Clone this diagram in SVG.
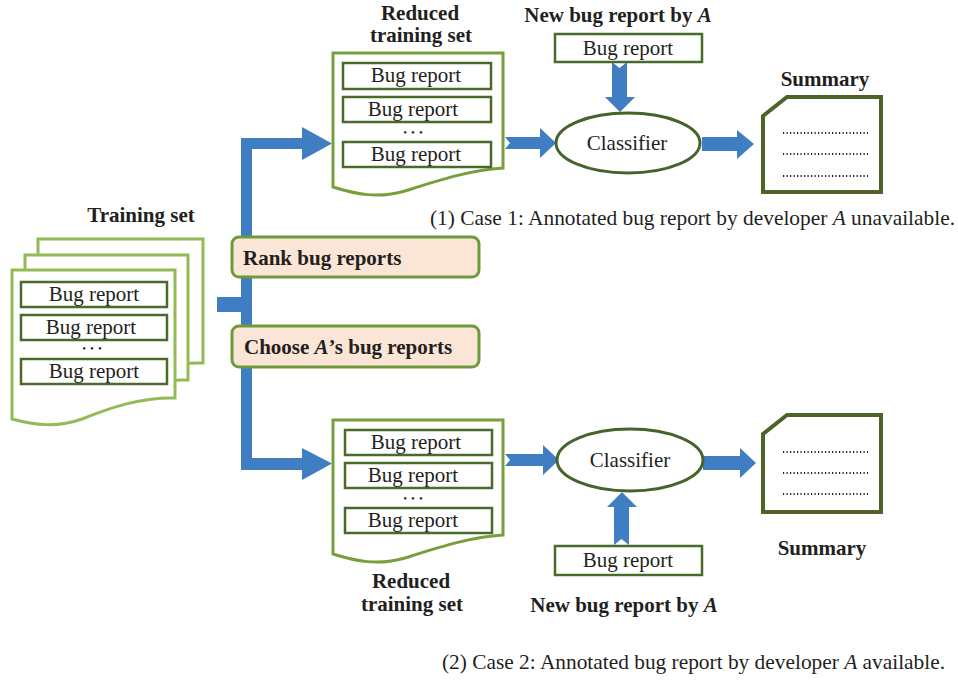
<svg xmlns="http://www.w3.org/2000/svg" width="958" height="680" viewBox="0 0 958 680">
<style>
text{font-family:"Liberation Serif","Times New Roman",serif;fill:#231f20}
.t{font-size:21px}
.b{font-size:21px;font-weight:bold}
.c{text-anchor:middle}
.dots{font-size:11px;text-anchor:middle;letter-spacing:4px}
.box{fill:#fff;stroke:#4a6a2b;stroke-width:2.5}
.doc1{fill:#fff;stroke:#93bb55;stroke-width:3}
.doc2{fill:#fff;stroke:#77a03c;stroke-width:3}
.step{fill:#fbe5d6;stroke:#6f9a3b;stroke-width:3}
.ell{fill:#fff;stroke:#46632a;stroke-width:3}
.sum{fill:#fff;stroke:#4d6328;stroke-width:4}
.dl{stroke:#231f20;stroke-width:2;stroke-dasharray:1.2 2.3}
.arr{fill:#3f7ec2}
</style>

<g id="connectors">
<polygon class="arr" points="241,138 302,138 302,127 332,143.5 302,160 302,149 252,149 252,458 302,458 302,448 332,463.5 302,480 302,470 241,470 241,312 217,312 217,297 241,297"/>
<polygon class="arr" points="505,137 540,137 540,128 556,143 540,158 540,149 505,149 510,143"/>
<polygon class="arr" points="702,137 737,137 737,130 754,144 737,159 737,151 702,151"/>
<polygon class="arr" points="612,62 619.5,68 627,62 627,97 635,97 620,112 605,97 612,97"/>
<polygon class="arr" points="505,454 543,454 543,445 559,460 543,475 543,466 505,466 510,460"/>
<polygon class="arr" points="703,456 740,456 740,448 756,463 740,478 740,470 703,470"/>
<polygon class="arr" points="614,545 621.5,539 629,545 629,507 637,507 622,492 607,507 614,507"/>
</g>

<g id="training-set">
<text class="b c" x="141" y="222">Training set</text>
<path class="doc1" d="M38,239 H203 V363 C170,362 140,372 110,384 C85,393 60,390 38,384 Z"/>
<path class="doc1" d="M25,255 H188 V380 C155,379 125,389 95,401 C70,410 47,407 25,401 Z"/>
<path class="doc1" d="M12,270 H175 V398 C142,397 112,407 82,419 C57,428 34,425 12,419 Z"/>
<rect class="box" x="21" y="282" width="146" height="25"/>
<text class="t c" x="94" y="301">Bug report</text>
<rect class="box" x="21" y="315" width="146" height="25"/>
<text class="t c" x="91" y="334">Bug report</text>
<text class="dots" x="94" y="352">•••</text>
<rect class="box" x="21" y="359" width="146" height="25"/>
<text class="t c" x="94" y="378">Bug report</text>
</g>

<g id="rank">
<rect class="step" x="232" y="237" width="247" height="40" rx="7"/>
<text class="b" x="243" y="265">Rank bug reports</text>
</g>

<g id="choose">
<rect class="step" x="232" y="326" width="247" height="41" rx="7"/>
<text class="b" x="244" y="354">Choose <tspan font-style="italic">A</tspan>’s bug reports</text>
</g>

<g id="reduced-1">
<text class="b c" x="420" y="20">Reduced</text>
<text class="b c" x="421" y="42">training set</text>
<path class="doc2" d="M333,53 H503 V168 C470,170 440,180 405,191 C378,199 355,194 333,187 Z"/>
<rect class="box" x="343" y="63" width="148" height="26"/>
<text class="t c" x="416" y="82">Bug report</text>
<rect class="box" x="343" y="97" width="148" height="25"/>
<text class="t c" x="413" y="116">Bug report</text>
<text class="dots" x="415" y="136">•••</text>
<rect class="box" x="343" y="142" width="148" height="25"/>
<text class="t c" x="416" y="161">Bug report</text>
</g>

<g id="new-bug-1">
<text class="b c" x="618" y="22">New bug report by <tspan font-style="italic">A</tspan></text>
<rect class="box" x="555" y="34" width="147" height="28"/>
<text class="t c" x="628" y="55">Bug report</text>
</g>

<g id="classifier-1">
<ellipse class="ell" cx="628" cy="143" rx="72" ry="30"/>
<text class="t c" x="627" y="150">Classifier</text>
</g>

<g id="summary-1">
<text class="b c" x="825" y="86">Summary</text>
<path class="sum" d="M763,116 L787,97 H881 V192 H763 Z"/>
<line class="dl" x1="783" y1="133" x2="868" y2="133"/>
<line class="dl" x1="783" y1="154" x2="868" y2="154"/>
<line class="dl" x1="783" y1="176" x2="868" y2="176"/>
</g>

<g id="case-1">
<text class="t" x="430" y="225" textLength="525" lengthAdjust="spacingAndGlyphs">(1) Case 1: Annotated bug report by developer <tspan font-style="italic">A</tspan> unavailable.</text>
</g>

<g id="reduced-2">
<path class="doc2" d="M333,420 H503 V535 C470,537 440,547 405,558 C378,566 355,561 333,554 Z"/>
<rect class="box" x="345" y="430" width="147" height="25"/>
<text class="t c" x="416" y="449">Bug report</text>
<rect class="box" x="345" y="463" width="147" height="25"/>
<text class="t c" x="413" y="482">Bug report</text>
<text class="dots" x="415" y="502">•••</text>
<rect class="box" x="345" y="508" width="147" height="25"/>
<text class="t c" x="413" y="527">Bug report</text>
<text class="b c" x="411" y="588">Reduced</text>
<text class="b c" x="412" y="611">training set</text>
</g>

<g id="classifier-2">
<ellipse class="ell" cx="630" cy="460" rx="73" ry="31"/>
<text class="t c" x="630" y="467">Classifier</text>
</g>

<g id="new-bug-2">
<rect class="box" x="555" y="546" width="147" height="29"/>
<text class="t c" x="628" y="567">Bug report</text>
<text class="b c" x="624" y="612">New bug report by <tspan font-style="italic">A</tspan></text>
</g>

<g id="summary-2">
<path class="sum" d="M763,434 L787,415 H881 V512 H763 Z"/>
<line class="dl" x1="783" y1="452" x2="868" y2="452"/>
<line class="dl" x1="783" y1="473" x2="868" y2="473"/>
<line class="dl" x1="783" y1="494" x2="868" y2="494"/>
<text class="b c" x="822" y="555">Summary</text>
</g>

<g id="case-2">
<text class="t" x="442" y="669" textLength="503" lengthAdjust="spacingAndGlyphs">(2) Case 2: Annotated bug report by developer <tspan font-style="italic">A</tspan> available.</text>
</g>
</svg>
